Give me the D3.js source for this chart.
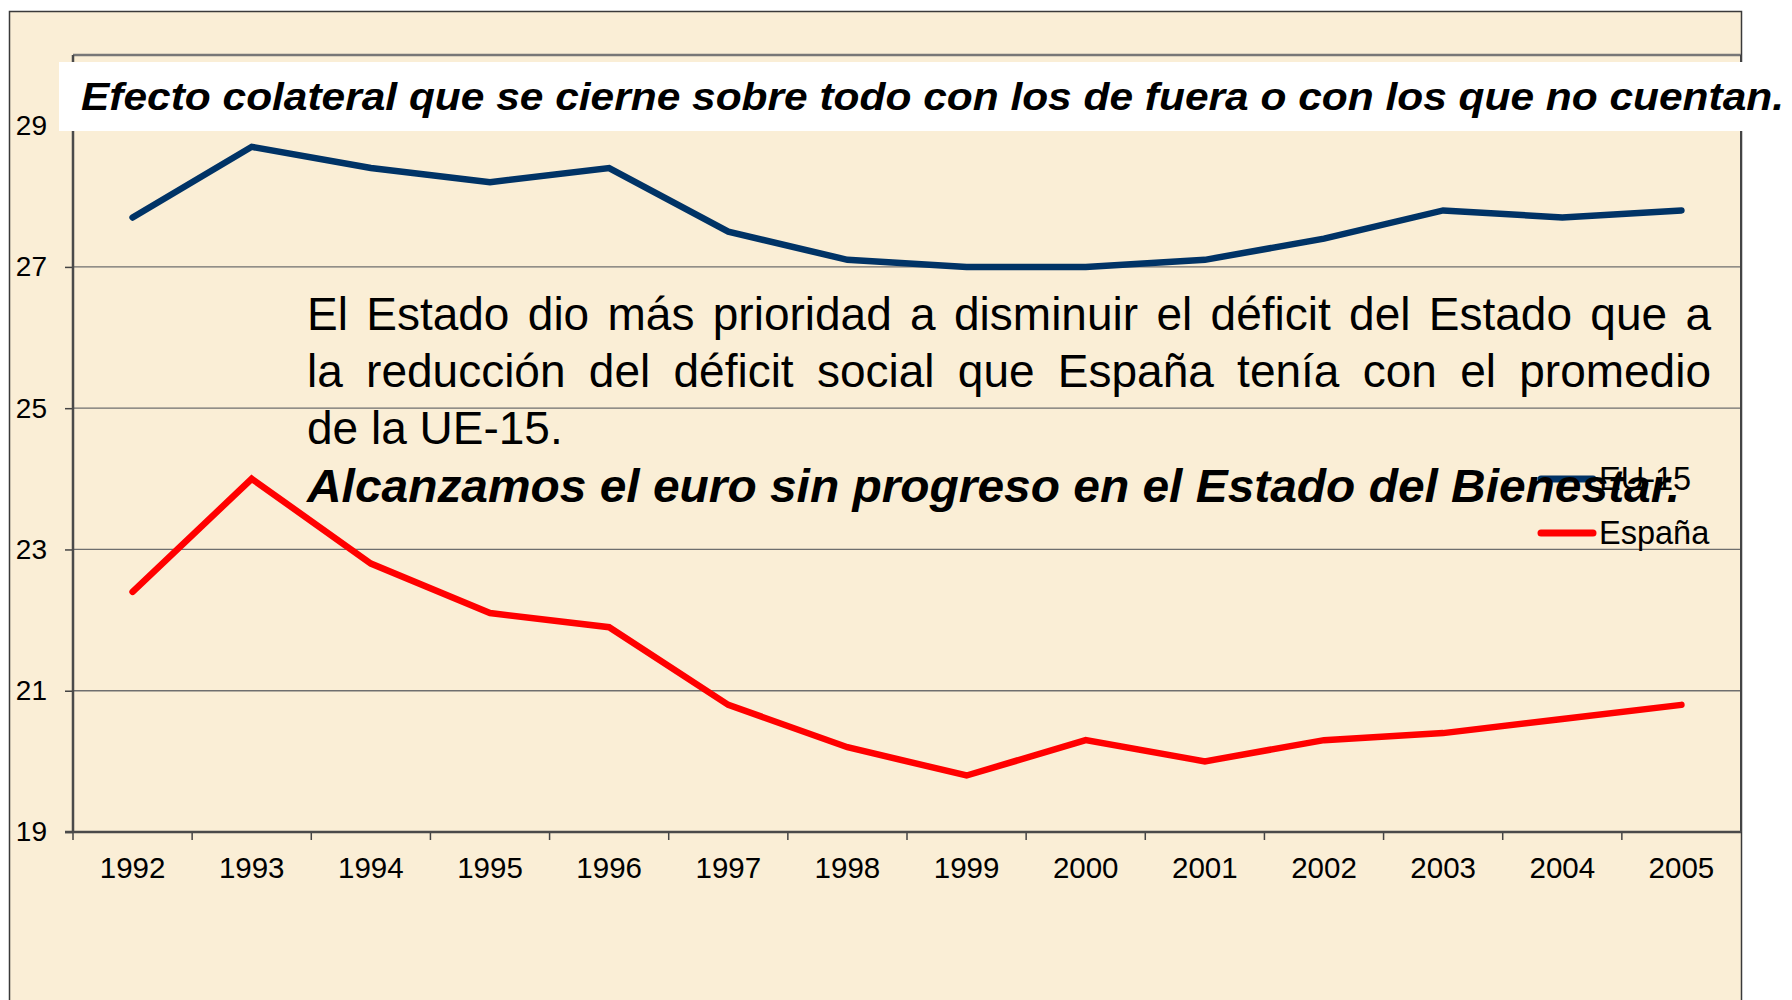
<!DOCTYPE html>
<html>
<head>
<meta charset="utf-8">
<script src="https://cdn.jsdelivr.net/npm/d3@7"></script>
<style>
  body { margin: 0; background: #fff; }
  text { font-family: Arial, "Liberation Sans", sans-serif; }
</style>
</head>
<body>
<script>
var years = ["1992", "1993", "1994", "1995", "1996", "1997", "1998", "1999", "2000", "2001", "2002", "2003", "2004", "2005"];
var eu15 = [27.7, 28.7, 28.4, 28.2, 28.4, 27.5, 27.1, 27.0, 27.0, 27.1, 27.4, 27.8, 27.7, 27.8];
var espana = [22.4, 24.0, 22.8, 22.1, 21.9, 20.8, 20.2, 19.8, 20.3, 20.0, 20.3, 20.4, 20.6, 20.8];
var yTicks = [19, 21, 23, 25, 27, 29];
var seriesNames = ["EU-15", "España"];
var seriesColors = ["#003366", "#FF0000"];

var title = "Efecto colateral que se cierne sobre todo con los de fuera o con los que no cuentan.";
var noteLines = [
    "El Estado dio más prioridad a disminuir el déficit del Estado que a",
    "la reducción del déficit social que España tenía con el promedio",
    "de la UE-15."
];
var noteBold = "Alcanzamos el euro sin progreso en el Estado del Bienestar.";

var w = 1792;
var h = 1000;
var pLeft = 73, pRight = 1741, pTop = 55, pBottom = 832;

var svg = d3.select("body").append("svg").attr("width", w).attr("height", h);

// slide frame and parchment background
svg.append("rect")
    .attr("x", 9.5).attr("y", 11.5)
    .attr("width", 1732).attr("height", 1000)
    .attr("fill", "#FAEED6")
    .attr("stroke", "#3a3a3a").attr("stroke-width", 1.5);

let xScale = d3.scaleBand().domain(years).range([pLeft, pRight]).padding(0);
let yScale = d3.scaleLinear().domain([19, 30]).range([pBottom, pTop]);

// gridlines
svg.selectAll(".grid")
    .data(yTicks.slice(1)).enter()
    .append("line")
    .attr("x1", pLeft).attr("x2", pRight)
    .attr("y1", d => yScale(d)).attr("y2", d => yScale(d))
    .attr("stroke", "#6e6e6e").attr("stroke-width", 1.3);

// plot area border top / right
svg.append("line").attr("x1", pLeft).attr("x2", pRight).attr("y1", pTop).attr("y2", pTop)
    .attr("stroke", "#777").attr("stroke-width", 2.5);
svg.append("line").attr("x1", pRight).attr("x2", pRight).attr("y1", pTop).attr("y2", pBottom)
    .attr("stroke", "#444").attr("stroke-width", 2);

// y axis
var yAxis = d3.axisLeft(yScale).tickValues(yTicks).tickSize(8).tickPadding(18);
var gy = svg.append("g").attr("transform", "translate(" + pLeft + ",0)").call(yAxis);
gy.select(".domain").remove();
gy.selectAll(".tick line").attr("stroke", "#444").attr("stroke-width", 1.5);
gy.selectAll(".tick text").attr("font-size", 28).attr("fill", "#000")
    .attr("font-family", "Arial, 'Liberation Sans', sans-serif");
svg.append("line").attr("x1", pLeft).attr("x2", pLeft).attr("y1", pTop).attr("y2", pBottom)
    .attr("stroke", "#4a4a4a").attr("stroke-width", 2.5);

// x axis: labels centred in bands, ticks between categories
var xAxis = d3.axisBottom(xScale).tickSize(0).tickPadding(25);
var gx = svg.append("g").attr("transform", "translate(0," + pBottom + ")").call(xAxis);
gx.select(".domain").remove();
gx.selectAll(".tick text").attr("font-size", 29.5).attr("fill", "#000")
    .attr("font-family", "Arial, 'Liberation Sans', sans-serif");
svg.selectAll(".xtick")
    .data(years).enter()
    .append("line")
    .attr("x1", d => xScale(d)).attr("x2", d => xScale(d))
    .attr("y1", pBottom).attr("y2", pBottom + 8)
    .attr("stroke", "#444").attr("stroke-width", 1.5);
svg.append("line").attr("x1", pLeft - 8).attr("x2", pRight).attr("y1", pBottom).attr("y2", pBottom)
    .attr("stroke", "#4a4a4a").attr("stroke-width", 2.5);

// series
var line = d3.line()
    .x((d, i) => xScale(years[i]) + xScale.bandwidth() / 2)
    .y(d => yScale(d));

[eu15, espana].forEach((s, k) => {
    svg.append("path")
        .datum(s)
        .attr("d", line)
        .attr("fill", "none")
        .attr("stroke", seriesColors[k])
        .attr("stroke-width", 6.5)
        .attr("stroke-linecap", "round");
});

// legend
var legend = svg.selectAll(".legend")
    .data(seriesNames).enter()
    .append("g")
    .attr("transform", (d, i) => "translate(1541," + (479 + i * 54) + ")");
legend.append("line")
    .attr("x1", 0).attr("x2", 52)
    .attr("stroke", (d, i) => seriesColors[i])
    .attr("stroke-width", 7)
    .attr("stroke-linecap", "round");
legend.append("text")
    .text(d => d)
    .attr("x", 58).attr("y", 11)
    .attr("font-size", 32.5);

// annotation text, justified lines
var noteX = 307, noteRight = 1711;
noteLines.forEach((t, i) => {
    var txt = svg.append("text")
        .text(t)
        .attr("x", noteX).attr("y", 330 + i * 57)
        .attr("font-size", 46);
    if (i < 2) {
        var natural = txt.node().getComputedTextLength();
        var spaces = t.split(" ").length - 1;
        txt.attr("word-spacing", ((noteRight - noteX) - natural) / spaces);
    }
});
svg.append("text")
    .text(noteBold)
    .attr("x", noteX).attr("y", 502)
    .attr("font-size", 46)
    .attr("font-weight", "bold")
    .attr("font-style", "italic")
    .attr("textLength", 1373)
    .attr("lengthAdjust", "spacingAndGlyphs");

// title banner
svg.append("rect")
    .attr("x", 59).attr("y", 62)
    .attr("width", 1733).attr("height", 69)
    .attr("fill", "#fff");
svg.append("text")
    .text(title)
    .attr("x", 81).attr("y", 110)
    .attr("font-size", 39)
    .attr("font-weight", "bold")
    .attr("font-style", "italic")
    .attr("textLength", 1703)
    .attr("lengthAdjust", "spacingAndGlyphs");
</script>
</body>
</html>
